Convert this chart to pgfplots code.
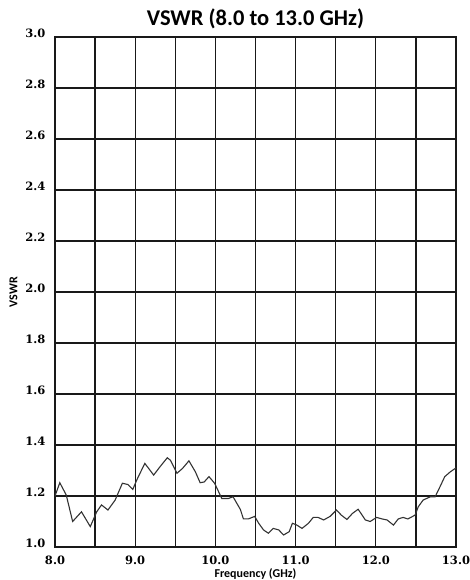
\documentclass[border=0pt]{standalone}
\usepackage{pgfplots}
\pgfplotsset{compat=1.18}
\usepackage{fontspec}
\setmainfont{DejaVu Serif}
\newfontfamily\carlito{Carlito}
\begin{document}
\begin{tikzpicture}[x=1pt,y=1pt]
\begin{axis}[
  at={(0,0)}, anchor=south west,
  width=401pt, height=510pt, scale only axis,
  xmin=8, xmax=13, ymin=1.0, ymax=3.0,
  xtick={8,9,10,11,12,13},
  minor xtick={8.5,9.5,10.5,11.5,12.5},
  ytick={1.0,1.2,1.4,1.6,1.8,2.0,2.2,2.4,2.6,2.8,3.0},
  grid=both,
  major grid style={black!90, line width=1.3pt},
  minor grid style={black!90, line width=1.3pt},
  axis line style={black!90, line width=1.3pt},
  major tick length=0pt, minor tick length=0pt,
  xticklabel style={font=\fontsize{11.5}{13}\selectfont\bfseries, anchor=center, yshift=-13pt},
  yticklabel style={font=\fontsize{11.5}{13}\selectfont\bfseries, anchor=east, xshift=-6pt, yshift=4pt},
  /pgf/number format/assume math mode=true,
  /pgf/number format/fixed, /pgf/number format/fixed zerofill, /pgf/number format/precision=1,
  title={\carlito\bfseries VSWR (8.0 to 13.0 GHz)},
  title style={font=\fontsize{22.5}{26}\selectfont, at={(axis description cs:0.5,1)}, anchor=center, yshift=12pt},
  xlabel={\carlito\bfseries Frequency (GHz)},
  xlabel style={font=\fontsize{12}{13}\selectfont, at={(axis description cs:0.5,0)}, anchor=center, yshift=-27pt},
  ylabel={\carlito\bfseries VSWR},
  ylabel style={font=\fontsize{12}{13}\selectfont, at={(axis description cs:-0.1035,0.5)}, anchor=center},
]
\addplot[black!80, line width=1.1pt] coordinates {
(8.00,1.200)(8.06,1.252)(8.14,1.204)(8.22,1.100)(8.33,1.138)(8.44,1.080)
(8.52,1.138)(8.58,1.165)(8.66,1.145)(8.75,1.184)(8.84,1.250)(8.91,1.245)
(8.97,1.226)(9.02,1.263)(9.12,1.328)(9.23,1.282)(9.31,1.315)(9.40,1.350)
(9.44,1.340)(9.52,1.289)(9.59,1.308)(9.67,1.338)(9.75,1.295)(9.81,1.252)
(9.86,1.255)(9.92,1.276)(9.99,1.250)(10.08,1.190)(10.16,1.190)(10.22,1.197)
(10.31,1.148)(10.35,1.110)(10.41,1.110)(10.49,1.120)(10.54,1.093)(10.60,1.067)
(10.66,1.054)(10.72,1.073)(10.79,1.067)(10.85,1.047)(10.92,1.060)(10.96,1.093)
(11.01,1.087)(11.08,1.073)(11.16,1.093)(11.22,1.116)(11.28,1.116)(11.35,1.106)
(11.43,1.120)(11.51,1.145)(11.57,1.125)(11.64,1.108)(11.71,1.132)(11.78,1.148)
(11.87,1.106)(11.93,1.100)(12.01,1.116)(12.08,1.110)(12.14,1.106)(12.22,1.086)
(12.28,1.110)(12.34,1.116)(12.40,1.110)(12.49,1.125)(12.53,1.158)(12.59,1.184)
(12.68,1.197)(12.74,1.197)(12.80,1.236)(12.86,1.276)(12.93,1.295)(13.00,1.310)
};
\end{axis}
\pgfresetboundingbox
\path[use as bounding box] (-55,-33) rectangle (415,547);
\end{tikzpicture}
\end{document}
